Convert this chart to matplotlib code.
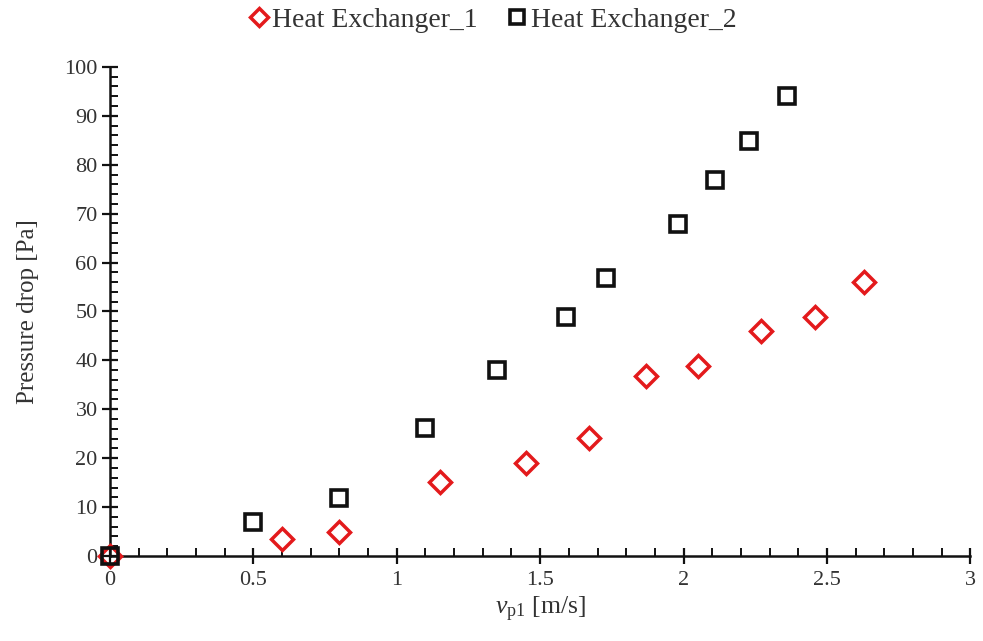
import numpy as np
import matplotlib.pyplot as plt
from matplotlib.ticker import MultipleLocator

plt.rcParams['font.family'] = ['Liberation Serif', 'DejaVu Serif']
plt.rcParams['mathtext.fontset'] = 'custom'
plt.rcParams['mathtext.rm'] = 'Liberation Serif'
plt.rcParams['mathtext.it'] = 'Liberation Serif:italic'

# Heat Exchanger_1 (red diamonds)
v_he1 = [0, 0.60, 0.80, 1.15, 1.45, 1.67, 1.87, 2.05, 2.27, 2.46, 2.63]
dp_he1 = [0, 3.5, 4.9, 15.1, 19.0, 24.1, 36.8, 38.9, 46.0, 48.9, 56.0]

# Heat Exchanger_2 (black squares)
v_he2 = [0, 0.50, 0.80, 1.10, 1.35, 1.59, 1.73, 1.98, 2.11, 2.23, 2.36]
dp_he2 = [0, 7.0, 11.9, 26.2, 38.0, 48.9, 56.9, 67.9, 76.9, 84.9, 94.1]

fig = plt.figure(figsize=(9.83, 6.41), dpi=100)
ax = fig.add_axes([0.112, 0.1326, 0.875, 0.763])

ax.plot(v_he1, dp_he1, linestyle='none', marker='D', markersize=11,
        markerfacecolor='none', markeredgecolor='#e31a1c', markeredgewidth=2.5,
        label='Heat Exchanger_1', clip_on=False, zorder=3)
ax.plot(v_he2, dp_he2, linestyle='none', marker='s', markersize=12,
        markerfacecolor='none', markeredgecolor='#111111', markeredgewidth=2.6,
        label='Heat Exchanger_2', clip_on=False, zorder=4)

ax.set_xlim(0, 3)
ax.set_ylim(0, 100)
ax.xaxis.set_major_locator(MultipleLocator(0.5))
ax.xaxis.set_minor_locator(MultipleLocator(0.1))
ax.yaxis.set_major_locator(MultipleLocator(10))
ax.yaxis.set_minor_locator(MultipleLocator(2))
ax.set_xticks([0, 0.5, 1, 1.5, 2, 2.5, 3])
ax.set_xticklabels(['0', '0.5', '1', '1.5', '2', '2.5', '3'])

for s in ['top', 'right']:
    ax.spines[s].set_visible(False)
for s in ['left', 'bottom']:
    ax.spines[s].set_linewidth(1.8)
    ax.spines[s].set_color('#111111')

ax.tick_params(which='major', direction='inout', length=12, width=1.6,
               labelsize=16, colors='#111111', pad=5)
ax.tick_params(which='minor', direction='in', length=6, width=1.4, colors='#111111')
ax.tick_params(axis='y', which='major', pad=3)
for lbl in ax.get_xticklabels() + ax.get_yticklabels():
    lbl.set_color('#333333')

ax.set_xlabel(r'$v_{\mathrm{p1}}$ [m/s]', fontsize=18.5, color='#333333', labelpad=3)
ax.set_ylabel('Pressure drop [Pa]', fontsize=18, color='#333333', labelpad=18)

leg = ax.legend(loc='center', bbox_to_anchor=(0.444, 1.096), ncol=2,
                frameon=False, fontsize=20, handletextpad=0.1, columnspacing=1.0,
                handlelength=0.8, markerscale=0.85)
for t in leg.get_texts():
    t.set_color('#333333')

plt.savefig('out.png', dpi=100)
